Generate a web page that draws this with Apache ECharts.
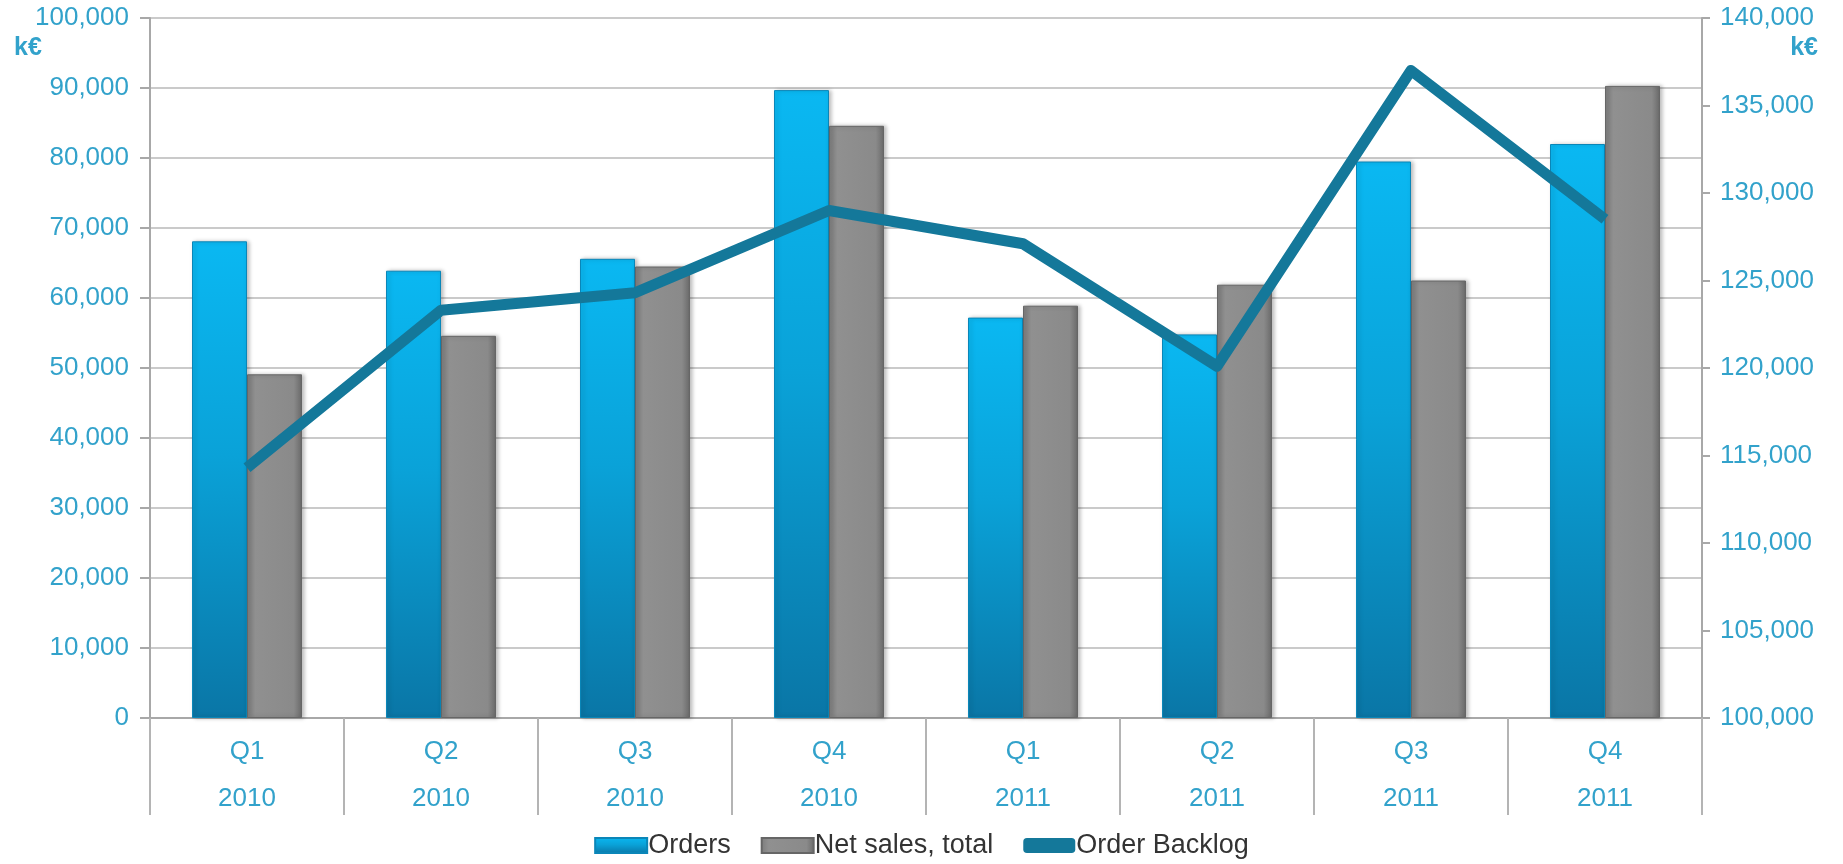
<!DOCTYPE html>
<html>
<head>
<meta charset="utf-8">
<title>Orders / Net sales / Order Backlog</title>
<script src="https://cdn.jsdelivr.net/npm/echarts@6/dist/echarts.min.js"></script>
<style>
  html, body { margin: 0; padding: 0; background: #fff; }
  #chart { width: 1843px; height: 864px; }
</style>
</head>
<body>
<div id="chart"></div>
<script>
// 数据
const quarters = ['Q1', 'Q2', 'Q3', 'Q4', 'Q1', 'Q2', 'Q3', 'Q4']
const years = ['2010', '2010', '2010', '2010', '2011', '2011', '2011', '2011']
const orders = [68100, 63900, 65600, 89700, 57200, 54800, 79500, 82000]
const netSales = [49100, 54600, 64500, 84600, 58900, 61900, 62500, 90300]
const orderBacklog = [114300, 123300, 124300, 129000, 127100, 120100, 137000, 128500]

const labelColor = '#32a2cb'
const fontFamily = 'Liberation Sans, Arial, sans-serif'

const categories = quarters.map((q, i) => q + '\n' + years[i])

const chart = echarts.init(document.getElementById('chart'))

const blueFill = new echarts.graphic.LinearGradient(0, 0, 0, 1, [
  { offset: 0, color: '#0ab8f2' },
  { offset: 0.45, color: '#0aa2d8' },
  { offset: 1, color: '#0a76a6' }
])
const grayFill = new echarts.graphic.LinearGradient(0, 0, 1, 0, [
  { offset: 0, color: '#7c7c7c' },
  { offset: 0.15, color: '#909090' },
  { offset: 0.85, color: '#8a8a8a' },
  { offset: 1, color: '#6a6a6a' }
])

chart.setOption({
  animation: false,
  textStyle: { fontFamily: fontFamily },
  grid: {
    left: 150,
    right: 141,
    top: 18,
    bottom: 146,
    containLabel: false
  },
  legend: {
    bottom: 0,
    left: 'center',
    itemWidth: 52,
    itemHeight: 15,
    itemGap: 30,
    textStyle: { color: '#333', fontSize: 27, fontFamily: fontFamily, padding: [0, 0, 0, -4] },
    data: [
      { name: 'Orders', icon: 'rect' },
      { name: 'Net sales, total', icon: 'rect' },
      { name: 'Order Backlog', icon: 'roundRect' }
    ]
  },
  xAxis: {
    type: 'category',
    data: categories,
    axisLine: { lineStyle: { color: '#a8a8a8', width: 2 } },
    axisTick: {
      show: true,
      length: 97,
      interval: 0,
      lineStyle: { color: '#b4b4b4', width: 2 }
    },
    axisLabel: {
      color: labelColor,
      fontSize: 26,
      lineHeight: 47,
      margin: 10,
      interval: 0
    }
  },
  yAxis: [
    {
      type: 'value',
      min: 0,
      max: 100000,
      interval: 10000,
      name: 'k€',
      nameLocation: 'end',
      nameGap: 0,
      nameTextStyle: {
        color: labelColor,
        fontSize: 25,
        fontWeight: 'bold',
        align: 'left',
        padding: [0, 0, -43, -136]
      },
      axisLine: { show: true, lineStyle: { color: '#a8a8a8', width: 2 } },
      axisTick: { show: true, length: 10, lineStyle: { color: '#a8a8a8', width: 2 } },
      axisLabel: {
        color: labelColor,
        fontSize: 26,
        margin: 21,
        formatter: v => v.toLocaleString('en-US')
      },
      splitLine: { show: true, lineStyle: { color: '#cacaca', width: 2 } }
    },
    {
      type: 'value',
      min: 100000,
      max: 140000,
      interval: 5000,
      position: 'right',
      name: 'k€',
      nameLocation: 'end',
      nameGap: 0,
      nameTextStyle: {
        color: labelColor,
        fontSize: 25,
        fontWeight: 'bold',
        align: 'right',
        padding: [0, -116, -43, 0]
      },
      axisLine: { show: true, lineStyle: { color: '#a8a8a8', width: 2 } },
      axisTick: { show: true, length: 8, lineStyle: { color: '#a8a8a8', width: 2 } },
      axisLabel: {
        color: labelColor,
        fontSize: 26,
        margin: 18,
        formatter: v => v.toLocaleString('en-US')
      },
      splitLine: { show: false }
    }
  ],
  series: [
    {
      name: 'Orders',
      type: 'bar',
      yAxisIndex: 0,
      barWidth: 55,
      barGap: '0%',
      data: orders,
      itemStyle: {
        color: blueFill,
        borderColor: '#0a86b8',
        borderWidth: 1,
        shadowColor: 'rgba(0,0,0,0.25)',
        shadowBlur: 4,
        shadowOffsetX: 2
      }
    },
    {
      name: 'Net sales, total',
      type: 'bar',
      yAxisIndex: 0,
      barWidth: 55,
      barGap: '0%',
      data: netSales,
      itemStyle: {
        color: grayFill,
        borderColor: '#666',
        borderWidth: 1,
        shadowColor: 'rgba(0,0,0,0.25)',
        shadowBlur: 4,
        shadowOffsetX: 2
      }
    },
    {
      name: 'Order Backlog',
      type: 'line',
      yAxisIndex: 1,
      data: orderBacklog,
      symbol: 'none',
      color: '#14789a',
      lineStyle: { color: '#14789a', width: 11, join: 'round', cap: 'butt' },
      z: 5
    }
  ]
})
</script>
</body>
</html>
